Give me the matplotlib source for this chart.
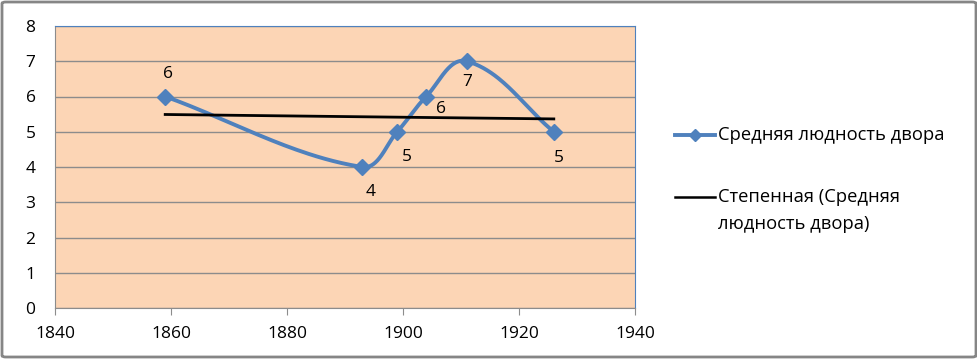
import numpy as np
import matplotlib.pyplot as plt
from matplotlib.patches import FancyBboxPatch
from matplotlib.lines import Line2D

years = [1859, 1893, 1899, 1904, 1911, 1926]
people = [6, 4, 5, 6, 7, 5]
label_offsets = [(2, 16), (6, -18), (7, -18), (11, -9), (0, -15), (4, -19)]

series_name = "Средняя людность двора"
trend_name = ["Степенная (Средняя", "людность двора)"]

blue = "#4F81BD"
peach = "#FCD5B5"
grid = "#8C8C8C"

plt.rcParams["font.family"] = ["Open Sans", "DejaVu Sans"]

fig = plt.figure(figsize=(9.78, 3.59), dpi=100)
W, H = 978, 359
ax = fig.add_axes([55 / W, 1 - 308 / H, 580 / W, 282 / H])
ax.set_xlim(1840, 1940)
ax.set_ylim(0, 8)
ax.set_facecolor(peach)

# smoothed line (bezier through the points, worked out in pixel space)
sx, sy = 5.8, 35.25
pts = np.column_stack([np.array(years, float) * sx, np.array(people, float) * sy])
n = len(pts)
t = np.linspace(0, 1, 50)[:, None]
curve = []
for i in range(n - 1):
    p0, p1 = pts[max(i - 1, 0)], pts[i]
    p2, p3 = pts[i + 1], pts[min(i + 2, n - 1)]
    seg = np.linalg.norm(p2 - p1) / 3
    d1 = (p2 - p0) / np.linalg.norm(p2 - p0)
    d2 = (p3 - p1) / np.linalg.norm(p3 - p1)
    c1 = p1 + d1 * seg
    c2 = p2 - d2 * seg
    b = (1 - t) ** 3 * p1 + 3 * (1 - t) ** 2 * t * c1 + 3 * (1 - t) * t ** 2 * c2 + t ** 3 * p2
    curve.append(b)
curve = np.vstack(curve)

ax.plot(curve[:, 0] / sx, curve[:, 1] / sy, color=blue, lw=2.8, zorder=3,
        solid_capstyle="round")
ax.plot(years, people, linestyle="none", marker="D", color=blue, markersize=8.5, zorder=4)

# power trendline y = a * x^b
b_coef, log_a = np.polyfit(np.log(years), np.log(people), 1)
tx = np.linspace(years[0], years[-1], 100)
ty = np.exp(log_a) * tx ** b_coef
ax.plot(tx, ty, color="black", lw=2, zorder=3)

for x, y, off in zip(years, people, label_offsets):
    ax.annotate(str(y), (x, y), xytext=off, textcoords="offset points",
                ha="center", va="center", fontsize=12.5)

ax.set_yticks(range(0, 9))
ax.set_xticks(range(1840, 1941, 20))
ax.yaxis.grid(True, color=grid, lw=1)
ax.set_axisbelow(True)
ax.tick_params(axis="y", length=0, labelsize=12.5, pad=14)
ax.tick_params(axis="x", length=5, color=grid, labelsize=12.5, pad=8)
ax.spines["left"].set_color(grid)
ax.spines["bottom"].set_color(grid)
ax.spines["top"].set_color(blue)
ax.spines["right"].set_color(blue)

# legend drawn by hand to get Excel's layout
def fx(px):
    return px / W


def fy(py):
    return 1 - py / H


fig.add_artist(Line2D([fx(675), fx(715)], [fy(135), fy(135)], color=blue, lw=2.8))
fig.add_artist(Line2D([fx(695)], [fy(135)], color=blue, marker="D", markersize=6.5))
fig.text(fx(718), fy(135), series_name, fontsize=13.2, va="center", ha="left")
fig.add_artist(Line2D([fx(675), fx(715)], [fy(197), fy(197)], color="black", lw=1.8))
fig.text(fx(718), fy(197), trend_name[0], fontsize=13.2, va="center", ha="left")
fig.text(fx(718), fy(224), trend_name[1], fontsize=13.2, va="center", ha="left")

border = FancyBboxPatch((2 / W, 2 / H), 974 / W, 355 / H,
                        boxstyle="round,pad=0,rounding_size=0.004",
                        transform=fig.transFigure, fill=False, ec="#868686", lw=2)
fig.patches.append(border)

fig.savefig("out.png", dpi=100)
